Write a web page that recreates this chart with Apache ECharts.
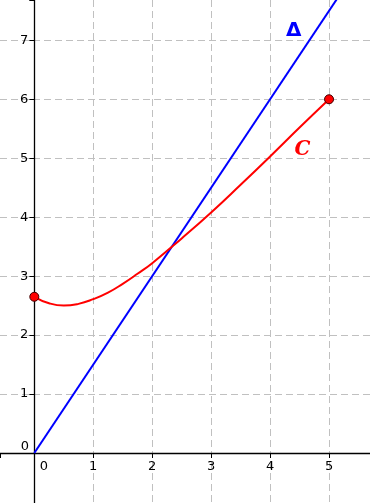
<!DOCTYPE html>
<html>
<head>
<meta charset="utf-8">
<script src="https://cdn.jsdelivr.net/npm/echarts@6/dist/echarts.min.js"></script>
<style>
html,body{margin:0;padding:0;background:#fff;}
#c{width:370px;height:503px;}
</style>
</head>
<body>
<div id="c"></div>
<script>
// Data
const curveX = [0, 0.25, 0.5, 0.75, 1, 1.25, 1.5, 1.75, 2, 2.5, 3, 3.5, 4, 4.5, 5];
const curveY = [2.65, 2.54, 2.50, 2.53, 2.61, 2.72, 2.87, 3.04, 3.22, 3.64, 4.08, 4.55, 5.03, 5.52, 6.0];
const lineX = [0, 5.6];
const lineY = [0, 8.4];
const endPoints = [[0, 2.65], [5, 6]];
const curveLabel = {name: 'C', pos: [4.55, 5.14]};
const lineLabel = {name: 'Δ', pos: [4.4, 7.16]};
const xRange = [-0.582, 5.695];
const yRange = [-0.848, 7.684];

const font = 'DejaVu Sans';
const W = 370, H = 503;
const chart = echarts.init(document.getElementById('c'), null, {renderer: 'canvas'});

// pixel offsets that bring each axis onto the other's zero
const xAxisOffset = -H * (0 - yRange[0]) / (yRange[1] - yRange[0]);
const yAxisOffset = -W * (0 - xRange[0]) / (xRange[1] - xRange[0]);

const axisCommon = {
  type: 'value',
  minInterval: 1,
  maxInterval: 1,
  axisLine: {show: true, onZero: false, lineStyle: {color: '#000', width: 1.3}},
  axisTick: {show: true, length: 5, lineStyle: {color: '#000', width: 1}},
  splitLine: {show: true, showMinLine: false, showMaxLine: false,
    lineStyle: {color: '#c0c0c0', width: 1, type: [7, 4]}},
};

chart.setOption({
  backgroundColor: '#fff',
  animation: false,
  grid: {left: 0, right: 0, top: 0, bottom: 0, containLabel: false, outerBoundsMode: 'none'},
  xAxis: Object.assign({}, axisCommon, {
    position: 'bottom',
    offset: xAxisOffset,
    min: xRange[0], max: xRange[1],
    axisLabel: {
      margin: 7, fontSize: 13, fontFamily: font, color: '#000', hideOverlap: false,
      formatter: v => (Number.isInteger(v) && v !== 0) ? String(v) : ''
    }
  }),
  yAxis: Object.assign({}, axisCommon, {
    position: 'left',
    offset: yAxisOffset,
    min: yRange[0], max: yRange[1],
    axisLabel: {
      margin: 6, fontSize: 13, fontFamily: font, color: '#000', hideOverlap: false,
      formatter: v => (Number.isInteger(v) && v !== 0) ? String(v) : ''
    }
  }),
  series: [
    {
      type: 'line',
      data: lineX.map((x, i) => [x, lineY[i]]),
      showSymbol: false,
      lineStyle: {color: '#0000ff', width: 2},
      clip: true, z: 3
    },
    {
      type: 'line',
      data: curveX.map((x, i) => [x, curveY[i]]),
      smooth: true,
      showSymbol: false,
      lineStyle: {color: '#ff0000', width: 2},
      clip: true, z: 4
    },
    {
      type: 'scatter',
      data: endPoints,
      symbolSize: 9,
      itemStyle: {color: '#ff0000', borderColor: '#400000', borderWidth: 1, opacity: 1},
      z: 5
    },
    {
      type: 'scatter',
      symbolSize: 0,
      silent: true,
      itemStyle: {opacity: 1},
      data: [
        {value: lineLabel.pos, label: {show: true, position: 'inside', formatter: lineLabel.name,
          fontFamily: font, fontWeight: 'bold', fontSize: 20, color: '#0000ff', opacity: 1}},
        {value: curveLabel.pos, label: {show: true, position: 'inside', formatter: curveLabel.name,
          fontFamily: 'DejaVu Serif', fontStyle: 'italic', fontWeight: 'bold', fontSize: 20, color: '#ff0000', opacity: 1}},
        {value: [0, 0], label: {show: true, position: 'inside', formatter: '0', offset: [-9.3, -6.5],
          fontFamily: font, fontSize: 13, color: '#000', opacity: 1}},
        {value: [0, 0], label: {show: true, position: 'inside', formatter: '0', offset: [9.7, 13.5],
          fontFamily: font, fontSize: 13, color: '#000', opacity: 1}}
      ],
      z: 6
    }
  ]
});
</script>
</body>
</html>
